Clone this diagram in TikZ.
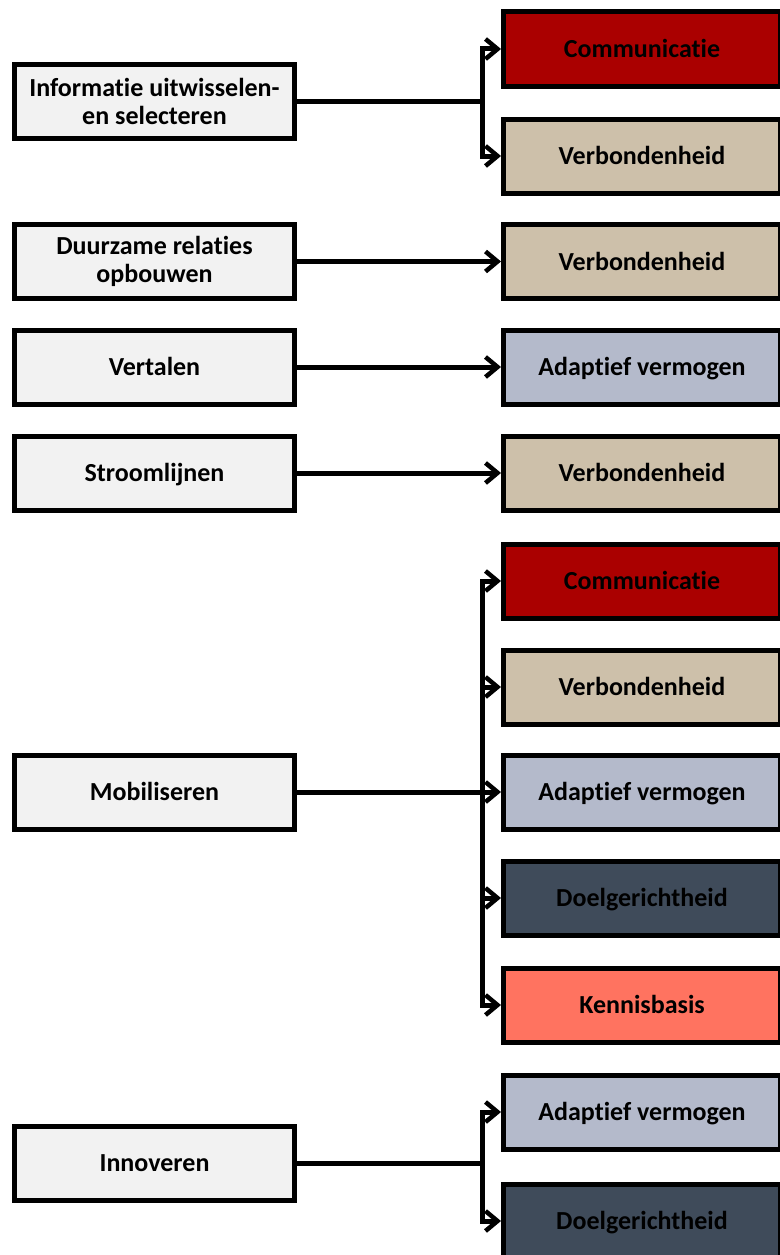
\documentclass[tikz,border=0pt]{standalone}
\usepackage{fontspec}
\setmainfont{Carlito}[Ligatures={NoCommon}]
\usetikzlibrary{arrows.meta}
\definecolor{leftfill}{RGB}{242,242,242}
\definecolor{commc}{RGB}{170,0,0}
\definecolor{verbc}{RGB}{205,192,170}
\definecolor{adapc}{RGB}{180,186,203}
\definecolor{doelc}{RGB}{63,75,90}
\definecolor{kennc}{RGB}{255,115,96}
\begin{document}
\begin{tikzpicture}[x=1pt,y=-1pt,
  base/.style={draw=black,line width=5pt,align=center,inner sep=0pt,
    font=\fontsize{26}{28.5}\selectfont\bfseries,text=black},
  oneline/.style={text height=19pt,text depth=2pt},
  leftbox/.style={base,fill=leftfill,minimum width=280pt,minimum height=74pt},
  rightbox/.style={base,oneline,minimum width=277pt,minimum height=74pt},
  comm/.style={rightbox,fill=commc},
  verb/.style={rightbox,fill=verbc},
  adap/.style={rightbox,fill=adapc},
  doel/.style={rightbox,fill=doelc},
  kenn/.style={rightbox,fill=kennc},
  conn/.style={line width=5pt},
  arr/.style={line width=5pt,-{Straight Barb[length=12pt,width=20pt,line width=4.5pt]}}
]
\useasboundingbox (0,0) rectangle (779,1255);
% left boxes
\node[leftbox] (L1) at (154.5,101.5) {Informatie uitwisselen-\\en selecteren};
\node[leftbox] (L2) at (154.5,261.5) {Duurzame relaties\\opbouwen};
\node[leftbox,oneline] (L3) at (154.5,367) {Vertalen};
\node[leftbox,oneline] (L4) at (154.5,473) {Stroomlijnen};
\node[leftbox,oneline] (L5) at (154.5,792) {Mobiliseren};
\node[leftbox,oneline] (L6) at (154.5,1163) {Innoveren};
% right boxes
\node[comm] (R1) at (642,49) {Communicatie};
\node[verb] (R2) at (642,156) {Verbondenheid};
\node[verb] (R3) at (642,261.5) {Verbondenheid};
\node[adap] (R4) at (642,367) {Adaptief vermogen};
\node[verb] (R5) at (642,473) {Verbondenheid};
\node[comm] (R6) at (642,581) {Communicatie};
\node[verb] (R7) at (642,687) {Verbondenheid};
\node[adap] (R8) at (642,792) {Adaptief vermogen};
\node[doel] (R9) at (642,898) {Doelgerichtheid};
\node[kenn] (R10) at (642,1005) {Kennisbasis};
\node[adap] (R11) at (642,1112) {Adaptief vermogen};
\node[doel] (R12) at (642,1221) {Doelgerichtheid};
% bus coordinates
\coordinate (B1) at (482,101.5);
\coordinate (B5) at (482,792);
\coordinate (B6) at (482,1163);
% connectors
\draw[conn] (L1.east) -- (B1);
\draw[arr] (B1) |- (R1.west);
\draw[arr] (B1) |- (R2.west);
\draw[arr] (L2.east) -- (R3.west);
\draw[arr] (L3.east) -- (R4.west);
\draw[arr] (L4.east) -- (R5.west);
\draw[conn] (L5.east) -- (B5);
\draw[arr] (B5) |- (R6.west);
\draw[arr] (B5) |- (R7.west);
\draw[arr] (B5) -- (R8.west);
\draw[arr] (B5) |- (R9.west);
\draw[arr] (B5) |- (R10.west);
\draw[conn] (L6.east) -- (B6);
\draw[arr] (B6) |- (R11.west);
\draw[arr] (B6) |- (R12.west);
\end{tikzpicture}
\end{document}
